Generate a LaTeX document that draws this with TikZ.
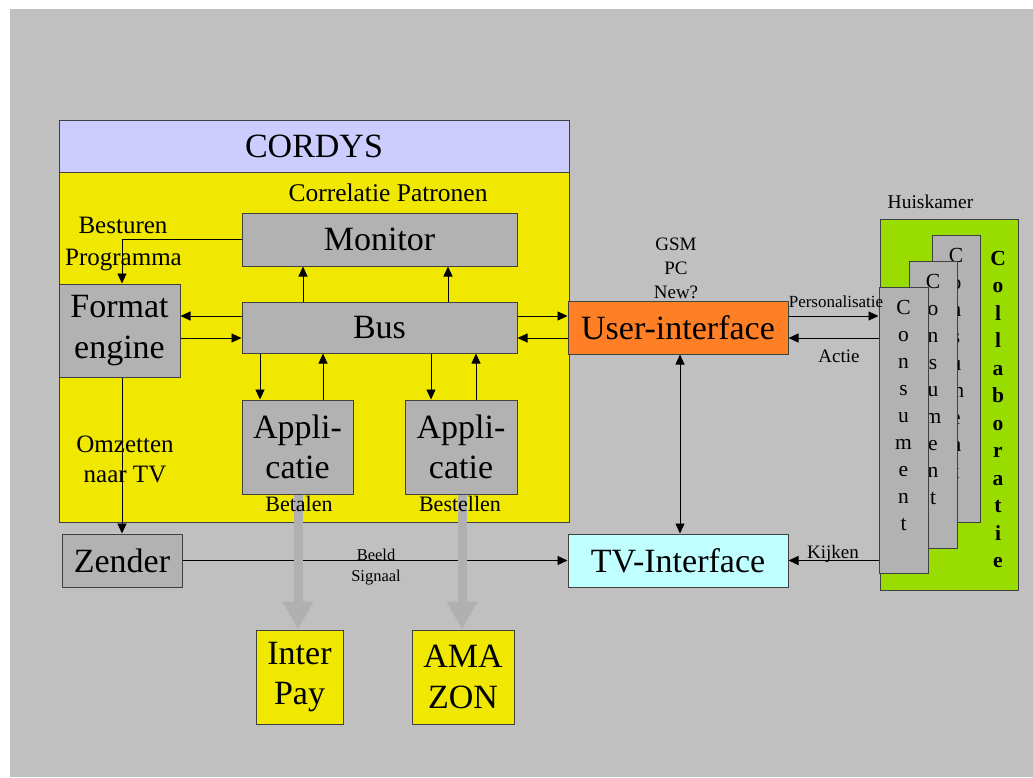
\documentclass[tikz,border=0pt]{standalone}
\usepackage{fontspec}
\setmainfont{Liberation Serif}
\usetikzlibrary{arrows.meta}
\definecolor{bgc}{RGB}{192,192,192}
\definecolor{lav}{RGB}{204,204,255}
\definecolor{yel}{RGB}{240,232,0}
\definecolor{boxg}{RGB}{178,178,178}
\definecolor{orng}{RGB}{255,127,39}
\definecolor{cyn}{RGB}{191,255,255}
\definecolor{grn}{RGB}{153,221,0}
\definecolor{fatg}{RGB}{176,176,176}
\definecolor{bord}{RGB}{64,64,64}
\begin{document}
\begin{tikzpicture}[x=1pt,y=-1pt,
  box/.style={draw=bord, line width=1pt, inner sep=0pt, align=center,
    font=\fontsize{34}{40.5}\selectfont},
  arr/.style={-{Triangle[length=10pt,width=9pt]}, line width=0.9pt, draw=black},
  darr/.style={{Triangle[length=10pt,width=9pt]}-{Triangle[length=10pt,width=9pt]}, line width=0.9pt, draw=black},
  fat/.style={-{Triangle[length=28pt,width=29pt]}, line width=9pt, draw=fatg},
  lbl/.style={inner sep=0pt, anchor=base},
  cardbox/.style={draw=bord, line width=1pt, fill=boxg, inner sep=0pt, minimum width=48pt, minimum height=287pt},
  cardl/.style={inner sep=0pt, anchor=base, font=\fontsize{21.5}{24}\selectfont},
  coll/.style={inner sep=0pt, anchor=base, font=\fontsize{21.5}{24}\selectfont\bfseries}
]
\useasboundingbox (0,0) rectangle (1033,777);
\fill[white] (0,0) rectangle (1033,777);
\fill[bgc] (10,9) rectangle (1033,777);

% CORDYS block
\node[box, fill=yel, minimum width=510pt, minimum height=402pt] (cordys) at (314,321) {};
\node[box, fill=lav, minimum width=510pt, minimum height=52pt] (head) at (314,146) {CORDYS};
\node[lbl, font=\fontsize{25.5}{30}\selectfont] (corr) at (388,201) {Correlatie Patronen};

\node[box, fill=boxg, minimum width=275pt, minimum height=53pt] (monitor) at (379.5,239.5) {Monitor};
\node[box, fill=boxg, minimum width=275pt, minimum height=51pt] (bus) at (379.5,327.5) {Bus};
\node[box, fill=boxg, minimum width=121pt, minimum height=93pt] (format) at (119.5,330.5) {Format\\engine};
\node[box, fill=boxg, minimum width=111pt, minimum height=94pt] (app1) at (297.5,447) {Appli-\\catie};
\node[box, fill=boxg, minimum width=112pt, minimum height=94pt] (app2) at (461,447) {Appli-\\catie};

\node[lbl, font=\fontsize{25}{30}\selectfont] (best) at (123,233) {Besturen};
\node[lbl, font=\fontsize{25}{30}\selectfont] (prog) at (123.5,265) {Programma};
\node[lbl, font=\fontsize{25}{30}\selectfont] (omz) at (125,452) {Omzetten};
\node[lbl, font=\fontsize{25}{30}\selectfont] (naar) at (125,482) {naar TV};

% other boxes
\node[box, fill=orng, minimum width=220pt, minimum height=53pt] (ui) at (678,327.5) {User-interface};
\node[box, fill=cyn, minimum width=220pt, minimum height=53pt] (tv) at (678,560.5) {TV-Interface};
\node[box, fill=boxg, minimum width=120pt, minimum height=53pt] (zender) at (122,560.5) {Zender};
\node[box, fill=yel, minimum width=87pt, minimum height=94pt] (interpay) at (299.5,677) {Inter\\Pay};
\node[box, fill=yel, minimum width=102pt, minimum height=94pt] (amazon) at (463,677) {AMA\\ZON};

\node[lbl, font=\fontsize{19}{22}\selectfont] (gsm) at (676,250) {GSM};
\node[lbl, font=\fontsize{19}{22}\selectfont] (pc) at (676,274) {PC};
\node[lbl, font=\fontsize{19}{22}\selectfont] (new) at (676,298) {New?};

% Huiskamer
\node[lbl, font=\fontsize{19.5}{22}\selectfont] (huis) at (930.5,208) {Huiskamer};
\node[draw=bord, line width=1pt, fill=grn, inner sep=0pt, minimum width=138pt, minimum height=371pt] (green) at (949,404.5) {};
\foreach \l [count=\i] in {C,o,l,l,a,b,o,r,a,t,i,e}
  \node[coll] (co\i) at (998,{265+27.5*(\i-1)}) {\l};

\node[cardbox] (back) at (956,378.5) {};
\foreach \l [count=\i] in {C,o,n,s,u,m,e,n,t}
  \node[cardl] (bk\i) at (956,{262+27*(\i-1)}) {\l};
\node[cardbox] (mid) at (933,404.5) {};
\foreach \l [count=\i] in {C,o,n,s,u,m,e,n,t}
  \node[cardl] (md\i) at (933,{288+27*(\i-1)}) {\l};
\node[cardbox, minimum width=49pt, minimum height=286pt] (front) at (903.5,430) {};
\foreach \l [count=\i] in {C,o,n,s,u,m,e,n,t}
  \node[cardl] (fr\i) at (903.5,{314+27*(\i-1)}) {\l};

% connectors inside CORDYS
\draw[arr] (monitor.west) -| (format.north -| zender.north);
\coordinate (bw1) at ([yshift=11.5pt]bus.west);
\coordinate (bw2) at ([yshift=-10.5pt]bus.west);
\draw[arr] (bw1) -- (bw1 -| format.east);
\draw[arr] (bw2 -| format.east) -- (bw2);
\coordinate (be1) at ([yshift=11.5pt]bus.east);
\coordinate (be2) at ([yshift=-10.5pt]bus.east);
\draw[arr] (be1) -- (be1 -| ui.west);
\draw[arr] (be2 -| ui.west) -- (be2);
\draw[arr] ([xshift=-76.5pt]bus.north) -- ([xshift=-76.5pt]monitor.south);
\draw[arr] ([xshift=68.5pt]bus.north) -- ([xshift=68.5pt]monitor.south);
\draw[arr] ([xshift=-37.5pt]app1.north |- bus.south) -- ([xshift=-37.5pt]app1.north);
\draw[arr] ([xshift=25.5pt]app1.north) -- ([xshift=25.5pt]app1.north |- bus.south);
\draw[arr] ([xshift=-30pt]app2.north |- bus.south) -- ([xshift=-30pt]app2.north);
\draw[arr] ([xshift=15pt]app2.north) -- ([xshift=15pt]app2.north |- bus.south);
\draw[arr] (format.south -| zender.north) -- (zender.north);

% outside connectors
\draw[darr] (ui.south -| 680,0) -- (tv.north -| 680,0);
\coordinate (ue1) at ([yshift=11.5pt]ui.east);
\coordinate (ue2) at ([yshift=-10.5pt]ui.east);
\draw[arr] (ue1) -- (ue1 -| front.west);
\draw[arr] (ue2 -| front.west) -- (ue2);
\draw[arr] (tv.east -| front.west) -- (tv.east);
\draw[arr] (zender.east) -- (tv.west);

\node[lbl, font=\fontsize{17}{20}\selectfont] (pers) at (836,307) {Personalisatie};
\node[lbl, font=\fontsize{19}{22}\selectfont] (actie) at (839,362) {Actie};
\node[lbl, font=\fontsize{19}{22}\selectfont] (kijken) at (833,558) {Kijken};
\node[lbl, font=\fontsize{16.5}{20}\selectfont] (beeld) at (376,560) {Beeld};
\node[lbl, font=\fontsize{16.5}{20}\selectfont] (signaal) at (376,581) {Signaal};

% fat arrows
\draw[fat] ([xshift=0.5pt]app1.south) -- ([xshift=0.5pt]app1.south |- interpay.north);
\draw[fat] ([xshift=1pt]app2.south) -- ([xshift=1pt]app2.south |- amazon.north);

% labels drawn over the fat arrows
\node[lbl, font=\fontsize{22}{26}\selectfont] (betalen) at (299,511) {Betalen};
\node[lbl, font=\fontsize{22}{26}\selectfont] (bestellen) at (460,511) {Bestellen};
\end{tikzpicture}
\end{document}
